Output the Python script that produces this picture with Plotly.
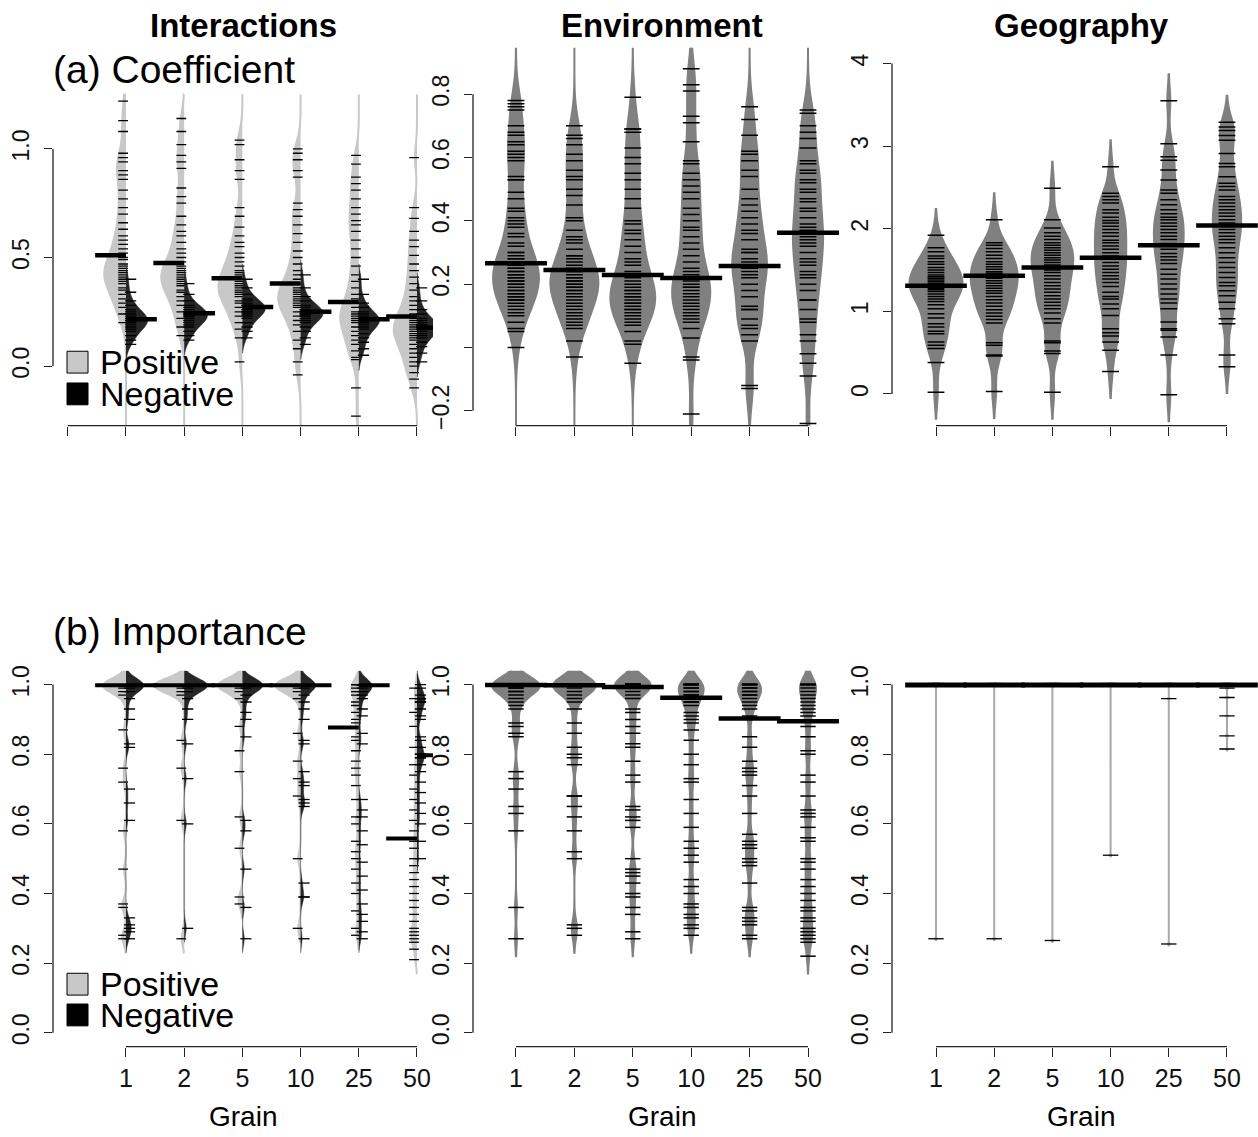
import plotly.graph_objects as go

W, H = 1258, 1137
grains = ['1', '2', '5', '10', '25', '50']

# ---------------- data ----------------
# (a) Coefficient - Interactions, positive / negative halves
coef_int_pos = [
    [1.22, 1.13, 1.08, 0.98, 0.96, 0.94, 0.90, 0.88, 0.86, 0.81, 0.77, 0.73, 0.70, 0.66, 0.63, 0.60, 0.58, 0.56, 0.54, 0.52,
     0.50, 0.49, 0.47, 0.46, 0.45, 0.44, 0.43, 0.42, 0.41, 0.40, 0.39, 0.38, 0.36, 0.35, 0.33, 0.31, 0.29, 0.27, 0.24, 0.20],
    [1.14, 1.08, 1.02, 0.97, 0.94, 0.91, 0.82, 0.78, 0.75, 0.69, 0.65, 0.62, 0.60, 0.57, 0.54, 0.52, 0.50, 0.48, 0.46, 0.45,
     0.44, 0.43, 0.42, 0.41, 0.40, 0.39, 0.38, 0.37, 0.35, 0.34, 0.32, 0.30, 0.28, 0.25, 0.22, 0.18, 0.14],
    [1.04, 1.02, 0.95, 0.90, 0.86, 0.73, 0.69, 0.64, 0.60, 0.57, 0.55, 0.52, 0.50, 0.48, 0.46, 0.44, 0.43, 0.42, 0.40, 0.39,
     0.38, 0.37, 0.36, 0.35, 0.34, 0.33, 0.32, 0.30, 0.29, 0.27, 0.25, 0.23, 0.20, 0.17, 0.13, 0.02],
    [1.00, 0.98, 0.95, 0.90, 0.87, 0.75, 0.72, 0.69, 0.65, 0.61, 0.57, 0.53, 0.50, 0.47, 0.44, 0.42, 0.40, 0.38, 0.36, 0.35,
     0.34, 0.33, 0.32, 0.31, 0.30, 0.29, 0.28, 0.27, 0.25, 0.23, 0.21, 0.19, 0.16, 0.12, 0.08, 0.02, -0.04],
    [0.97, 0.93, 0.87, 0.84, 0.81, 0.77, 0.73, 0.70, 0.67, 0.65, 0.62, 0.58, 0.54, 0.50, 0.46, 0.42, 0.39, 0.36, 0.33, 0.31,
     0.29, 0.27, 0.25, 0.24, 0.23, 0.22, 0.21, 0.20, 0.18, 0.16, 0.14, 0.12, 0.10, 0.07, 0.04, 0.03, -0.10, -0.23],
    [0.96, 0.73, 0.68, 0.62, 0.58, 0.55, 0.51, 0.47, 0.44, 0.41, 0.38, 0.35, 0.32, 0.30, 0.28, 0.26, 0.24, 0.22, 0.21, 0.20,
     0.19, 0.18, 0.17, 0.16, 0.15, 0.14, 0.13, 0.12, 0.10, 0.08, 0.06, 0.04, 0.02, 0.00, -0.03, -0.06, -0.10],
]
coef_int_neg = [
    [0.40, 0.34, 0.30, 0.28, 0.26, 0.25, 0.24, 0.23, 0.22, 0.22, 0.21, 0.21, 0.20, 0.20, 0.19, 0.18, 0.17, 0.16, 0.14, 0.12, 0.10],
    [0.38, 0.33, 0.30, 0.28, 0.27, 0.26, 0.25, 0.25, 0.24, 0.24, 0.23, 0.23, 0.22, 0.22, 0.21, 0.20, 0.19, 0.18, 0.16, 0.14, 0.12],
    [0.40, 0.36, 0.33, 0.31, 0.30, 0.29, 0.28, 0.28, 0.27, 0.27, 0.26, 0.26, 0.25, 0.25, 0.24, 0.23, 0.22, 0.20, 0.18, 0.16, 0.13],
    [0.42, 0.36, 0.32, 0.30, 0.28, 0.27, 0.26, 0.26, 0.25, 0.25, 0.24, 0.24, 0.23, 0.23, 0.22, 0.21, 0.20, 0.18, 0.16, 0.13, 0.10],
    [0.40, 0.33, 0.29, 0.27, 0.25, 0.24, 0.23, 0.22, 0.22, 0.21, 0.21, 0.20, 0.20, 0.19, 0.18, 0.17, 0.15, 0.13, 0.11, 0.08, 0.05],
    [0.36, 0.30, 0.26, 0.24, 0.22, 0.21, 0.20, 0.19, 0.19, 0.18, 0.18, 0.17, 0.17, 0.16, 0.15, 0.14, 0.13, 0.11, 0.09, 0.06, 0.02],
]
# (a) Coefficient - Environment
coef_env = [
    [0.78, 0.77, 0.76, 0.75, 0.70, 0.68, 0.67, 0.65, 0.64, 0.62, 0.61, 0.60, 0.59, 0.54, 0.53, 0.53, 0.49, 0.47, 0.44, 0.43,
     0.41, 0.40, 0.39, 0.38, 0.36, 0.35, 0.33, 0.32, 0.30, 0.30, 0.29, 0.28, 0.28, 0.27, 0.27, 0.26, 0.26, 0.25, 0.25, 0.24,
     0.24, 0.23, 0.23, 0.22, 0.22, 0.21, 0.21, 0.20, 0.20, 0.19, 0.18, 0.18, 0.17, 0.17, 0.16, 0.16, 0.15, 0.15, 0.14, 0.13,
     0.12, 0.11, 0.10, 0.08, 0.06, 0.05, 0.00],
    [0.70, 0.67, 0.66, 0.64, 0.61, 0.59, 0.56, 0.54, 0.53, 0.50, 0.48, 0.45, 0.41, 0.40, 0.37, 0.35, 0.34, 0.33, 0.31, 0.29,
     0.29, 0.28, 0.27, 0.26, 0.25, 0.24, 0.24, 0.23, 0.22, 0.22, 0.21, 0.21, 0.20, 0.20, 0.19, 0.19, 0.18, 0.18, 0.17, 0.16,
     0.15, 0.14, 0.13, 0.12, 0.11, 0.10, 0.09, 0.08, 0.07, 0.06, 0.02, -0.03],
    [0.79, 0.69, 0.69, 0.68, 0.63, 0.60, 0.58, 0.55, 0.53, 0.50, 0.47, 0.44, 0.40, 0.39, 0.37, 0.36, 0.34, 0.32, 0.30, 0.28,
     0.27, 0.26, 0.24, 0.23, 0.22, 0.21, 0.20, 0.19, 0.18, 0.18, 0.17, 0.16, 0.16, 0.15, 0.14, 0.14, 0.13, 0.12, 0.12, 0.11,
     0.10, 0.09, 0.08, 0.07, 0.05, 0.02, 0.01, -0.05],
    [0.88, 0.83, 0.81, 0.73, 0.71, 0.65, 0.59, 0.58, 0.55, 0.53, 0.51, 0.49, 0.47, 0.44, 0.42, 0.40, 0.38, 0.37, 0.35, 0.33,
     0.31, 0.29, 0.27, 0.25, 0.24, 0.23, 0.22, 0.21, 0.20, 0.19, 0.19, 0.18, 0.17, 0.16, 0.15, 0.14, 0.13, 0.12, 0.11, 0.10,
     0.09, 0.08, 0.06, 0.03, -0.03, -0.04, -0.21],
    [0.76, 0.72, 0.67, 0.62, 0.61, 0.59, 0.56, 0.54, 0.50, 0.47, 0.45, 0.43, 0.41, 0.39, 0.37, 0.36, 0.34, 0.31, 0.30, 0.30,
     0.28, 0.27, 0.26, 0.25, 0.24, 0.23, 0.22, 0.20, 0.18, 0.16, 0.13, 0.12, 0.12, 0.09, 0.07, 0.06, 0.04, 0.02, -0.12, -0.13],
    [0.75, 0.74, 0.70, 0.68, 0.66, 0.63, 0.59, 0.58, 0.56, 0.55, 0.53, 0.52, 0.50, 0.49, 0.47, 0.46, 0.44, 0.43, 0.41, 0.39,
     0.38, 0.37, 0.36, 0.35, 0.34, 0.33, 0.32, 0.30, 0.28, 0.27, 0.26, 0.24, 0.23, 0.22, 0.20, 0.18, 0.15, 0.15, 0.12, 0.09,
     0.08, 0.04, 0.02, -0.02, -0.05, -0.09, -0.24],
]
# (a) Coefficient - Geography
coef_geo = [
    [1.92, 1.77, 1.72, 1.67, 1.64, 1.60, 1.57, 1.53, 1.50, 1.47, 1.44, 1.42, 1.40, 1.38, 1.36, 1.34, 1.32, 1.30, 1.28, 1.26,
     1.24, 1.21, 1.18, 1.15, 1.12, 1.08, 1.03, 0.97, 0.92, 0.85, 0.81, 0.76, 0.73, 0.63, 0.59, 0.55, 0.38, 0.02],
    [2.11, 1.83, 1.80, 1.76, 1.72, 1.68, 1.64, 1.60, 1.57, 1.54, 1.51, 1.48, 1.46, 1.43, 1.40, 1.37, 1.34, 1.31, 1.28, 1.25,
     1.22, 1.18, 1.14, 1.10, 1.06, 1.02, 0.98, 0.94, 0.90, 0.86, 0.62, 0.59, 0.47, 0.46, 0.03],
    [2.49, 2.11, 2.01, 1.95, 1.91, 1.87, 1.83, 1.80, 1.77, 1.74, 1.71, 1.68, 1.65, 1.62, 1.59, 1.56, 1.53, 1.50, 1.47, 1.43,
     1.39, 1.35, 1.31, 1.27, 1.23, 1.19, 1.15, 1.11, 1.07, 1.03, 0.98, 0.91, 0.86, 0.64, 0.62, 0.52, 0.49, 0.02],
    [2.75, 2.43, 2.39, 2.35, 2.31, 2.23, 2.19, 2.14, 2.10, 2.07, 2.03, 1.99, 1.95, 1.91, 1.86, 1.83, 1.79, 1.75, 1.71, 1.67,
     1.63, 1.59, 1.55, 1.51, 1.47, 1.43, 1.39, 1.35, 1.30, 1.23, 1.18, 1.15, 1.09, 1.03, 0.95, 0.79, 0.74, 0.70, 0.63, 0.53, 0.27],
    [3.55, 3.03, 2.87, 2.83, 2.71, 2.59, 2.47, 2.43, 2.35, 2.29, 2.23, 2.18, 2.14, 2.11, 2.07, 2.03, 1.99, 1.95, 1.91, 1.87,
     1.82, 1.79, 1.75, 1.70, 1.66, 1.62, 1.58, 1.51, 1.45, 1.39, 1.33, 1.27, 1.21, 1.15, 1.10, 1.03, 0.87, 0.79, 0.77, 0.69,
     0.47, -0.01],
    [3.29, 3.23, 3.19, 3.13, 3.07, 2.91, 2.79, 2.75, 2.63, 2.55, 2.51, 2.47, 2.39, 2.35, 2.31, 2.27, 2.23, 2.19, 2.15, 2.11,
     2.07, 2.03, 1.99, 1.95, 1.91, 1.87, 1.83, 1.77, 1.71, 1.65, 1.59, 1.53, 1.47, 1.41, 1.35, 1.31, 1.25, 1.19, 1.11, 1.03,
     0.91, 0.85, 0.47, 0.33],
]
# (b) Importance - Interactions
imp_int_pos = [
    [1.0, 1.0, 1.0, 1.0, 1.0, 1.0, 1.0, 1.0, 1.0, 1.0, 0.99, 0.98, 0.97, 0.87, 0.76, 0.72, 0.58, 0.47, 0.37, 0.36, 0.28, 0.27],
    [1.0, 1.0, 1.0, 1.0, 1.0, 1.0, 1.0, 1.0, 1.0, 1.0, 0.99, 0.98, 0.97, 0.84, 0.76, 0.61, 0.27],
    [1.0, 1.0, 1.0, 1.0, 1.0, 1.0, 1.0, 1.0, 1.0, 1.0, 0.99, 0.98, 0.96, 0.88, 0.81, 0.75, 0.62, 0.53, 0.39, 0.37],
    [1.0, 1.0, 1.0, 1.0, 1.0, 1.0, 1.0, 1.0, 1.0, 0.99, 0.98, 0.96, 0.86, 0.78, 0.73, 0.68, 0.50, 0.30],
    [1.0, 1.0, 1.0, 0.99, 0.98, 0.97, 0.95, 0.94, 0.92, 0.90, 0.89, 0.85, 0.84, 0.81, 0.78, 0.76, 0.74, 0.71, 0.67, 0.62,
     0.60, 0.55, 0.52, 0.50, 0.47, 0.43, 0.40, 0.35, 0.30, 0.28],
    [0.99, 0.96, 0.92, 0.88, 0.82, 0.77, 0.74, 0.70, 0.67, 0.64, 0.61, 0.58, 0.55, 0.53, 0.50, 0.48, 0.46, 0.44, 0.42, 0.40,
     0.38, 0.36, 0.34, 0.32, 0.30, 0.29, 0.28, 0.27, 0.26, 0.24, 0.21],
]
imp_int_neg = [
    [1.0, 1.0, 1.0, 1.0, 1.0, 1.0, 1.0, 1.0, 1.0, 1.0, 0.99, 0.98, 0.96, 0.93, 0.90, 0.83, 0.82, 0.70, 0.66, 0.61,
     0.33, 0.31, 0.30, 0.29, 0.27],
    [1.0, 1.0, 1.0, 1.0, 1.0, 1.0, 1.0, 1.0, 1.0, 1.0, 0.99, 0.98, 0.96, 0.93, 0.90, 0.83, 0.73, 0.60, 0.30],
    [1.0, 1.0, 1.0, 1.0, 1.0, 1.0, 1.0, 1.0, 1.0, 1.0, 0.99, 0.97, 0.95, 0.92, 0.90, 0.85, 0.61, 0.58, 0.47, 0.36, 0.27],
    [1.0, 1.0, 1.0, 1.0, 1.0, 1.0, 1.0, 1.0, 1.0, 0.99, 0.97, 0.95, 0.93, 0.90, 0.84, 0.83, 0.75, 0.72, 0.71, 0.67,
     0.66, 0.65, 0.43, 0.39, 0.39, 0.27],
    [1.0, 1.0, 1.0, 1.0, 1.0, 1.0, 1.0, 1.0, 0.99, 0.98, 0.97, 0.96, 0.93, 0.91, 0.86, 0.83, 0.67, 0.64, 0.62, 0.58,
     0.54, 0.49, 0.45, 0.41, 0.37, 0.34, 0.32, 0.29, 0.27],
    [1.0, 0.99, 0.97, 0.96, 0.96, 0.95, 0.95, 0.93, 0.91, 0.90, 0.85, 0.84, 0.82, 0.80, 0.80, 0.79, 0.79, 0.77, 0.75, 0.72,
     0.69, 0.66, 0.63, 0.60, 0.55, 0.50],
]
# (b) Importance - Environment
imp_env = [
    [1.0, 1.0, 1.0, 1.0, 1.0, 1.0, 1.0, 1.0, 1.0, 1.0, 1.0, 1.0, 1.0, 1.0, 1.0, 1.0, 1.0, 1.0, 1.0, 1.0,
     0.99, 0.99, 0.98, 0.98, 0.97, 0.96, 0.95, 0.94, 0.93, 0.89, 0.88, 0.86, 0.85, 0.75, 0.73, 0.70, 0.65, 0.63, 0.58,
     0.36, 0.27],
    [1.0, 1.0, 1.0, 1.0, 1.0, 1.0, 1.0, 1.0, 1.0, 1.0, 1.0, 1.0, 1.0, 1.0, 1.0, 1.0, 1.0, 1.0, 1.0, 1.0,
     0.99, 0.98, 0.97, 0.96, 0.95, 0.93, 0.89, 0.86, 0.82, 0.80, 0.79, 0.77, 0.68, 0.68, 0.65, 0.62, 0.58, 0.52, 0.50,
     0.31, 0.30, 0.28],
    [1.0, 1.0, 1.0, 1.0, 1.0, 1.0, 1.0, 1.0, 1.0, 1.0, 1.0, 1.0, 1.0, 1.0, 1.0, 1.0, 1.0, 1.0, 1.0, 1.0,
     0.99, 0.98, 0.97, 0.96, 0.93, 0.92, 0.90, 0.88, 0.86, 0.83, 0.82, 0.78, 0.74, 0.72, 0.65, 0.64, 0.62, 0.61, 0.59,
     0.50, 0.47, 0.46, 0.45, 0.43, 0.40, 0.39, 0.36, 0.34, 0.29, 0.27],
    [1.0, 1.0, 1.0, 1.0, 1.0, 1.0, 1.0, 1.0, 0.99, 0.99, 0.98, 0.98, 0.97, 0.97, 0.96, 0.96, 0.95, 0.95, 0.94,
     0.92, 0.91, 0.90, 0.89, 0.87, 0.84, 0.80, 0.77, 0.73, 0.72, 0.67, 0.63, 0.59, 0.55, 0.53, 0.51, 0.49, 0.44,
     0.42, 0.40, 0.37, 0.36, 0.34, 0.33, 0.31, 0.30, 0.28],
    [1.0, 1.0, 1.0, 1.0, 1.0, 1.0, 0.99, 0.99, 0.98, 0.98, 0.97, 0.97, 0.96, 0.95, 0.94, 0.93,
     0.91, 0.85, 0.82, 0.78, 0.76, 0.75, 0.74, 0.71, 0.68, 0.63, 0.57, 0.55, 0.54, 0.53, 0.50, 0.49, 0.48, 0.43,
     0.36, 0.35, 0.33, 0.32, 0.31, 0.28, 0.27],
    [1.0, 1.0, 1.0, 1.0, 1.0, 1.0, 0.99, 0.98, 0.97, 0.96, 0.95, 0.94, 0.93, 0.92, 0.91,
     0.88, 0.85, 0.81, 0.80, 0.74, 0.72, 0.68, 0.64, 0.63, 0.62, 0.59, 0.56, 0.55, 0.50, 0.49, 0.47, 0.44, 0.42,
     0.40, 0.38, 0.36, 0.35, 0.33, 0.32, 0.30, 0.29, 0.28, 0.27, 0.26, 0.22],
]
# (b) Importance - Geography
imp_geo = [
    [1.0, 1.0, 1.0, 1.0, 1.0, 1.0, 1.0, 1.0, 1.0, 1.0, 1.0, 1.0, 1.0, 1.0, 1.0, 0.27],
    [1.0, 1.0, 1.0, 1.0, 1.0, 1.0, 1.0, 1.0, 1.0, 1.0, 1.0, 1.0, 1.0, 1.0, 1.0, 0.27],
    [1.0, 1.0, 1.0, 1.0, 1.0, 1.0, 1.0, 1.0, 1.0, 1.0, 1.0, 1.0, 1.0, 1.0, 1.0, 0.265],
    [1.0, 1.0, 1.0, 1.0, 1.0, 1.0, 1.0, 1.0, 1.0, 1.0, 1.0, 1.0, 1.0, 1.0, 1.0, 0.51],
    [1.0, 1.0, 1.0, 1.0, 1.0, 1.0, 1.0, 1.0, 1.0, 1.0, 1.0, 1.0, 1.0, 1.0, 1.0, 0.96, 0.255],
    [1.0, 1.0, 1.0, 1.0, 1.0, 1.0, 1.0, 1.0, 1.0, 1.0, 1.0, 1.0, 0.99, 0.963, 0.91, 0.853, 0.815],
]

# bean average lines
mean_coef_int_pos = [0.51, 0.475, 0.405, 0.38, 0.295, 0.228]
mean_coef_int_neg = [0.216, 0.243, 0.272, 0.25, 0.216, 0.177]
mean_coef_env = [0.266, 0.245, 0.229, 0.219, 0.257, 0.362]
mean_coef_geo = [1.31, 1.43, 1.53, 1.65, 1.80, 2.04]
mean_imp_int_pos = [0.998, 0.998, 0.998, 0.998, 0.877, 0.558]
mean_imp_int_neg = [0.998, 0.998, 0.998, 0.998, 0.998, 0.797]
mean_imp_env = [0.999, 0.998, 0.993, 0.962, 0.903, 0.895]
mean_imp_geo = [0.999, 0.999, 0.999, 0.999, 0.999, 0.999]

# axis ticks
yt_coef_int = [0.0, 0.5, 1.0]
yt_coef_int_lab = ['0.0', '0.5', '1.0']
yt_coef_env = [-0.2, 0.0, 0.2, 0.4, 0.6, 0.8]
yt_coef_env_lab = ['\u22120.2', '', '0.2', '0.4', '0.6', '0.8']
yt_coef_geo = [0, 1, 2, 3, 4]
yt_coef_geo_lab = ['0', '1', '2', '3', '4']
yt_imp = [0.0, 0.2, 0.4, 0.6, 0.8, 1.0]
yt_imp_lab = ['0.0', '0.2', '0.4', '0.6', '0.8', '1.0']

# ---------------- layout geometry (pixels) ----------------
FONT = 'Liberation Sans, Arial, sans-serif'
col_px = [(53, 433, (-0.254, 6.275)), (473, 850, (0.264, 6.719)), (892, 1258, (0.244, 6.533))]
row_px = [(43, 424), (671, 1050)]
yranges = [(-0.274, 1.466), (-0.247, 0.947), (-0.384, 4.192),
           (-0.04, 1.04), (-0.04, 1.04), (-0.04, 1.04)]
yticks = [(yt_coef_int, yt_coef_int_lab), (yt_coef_env, yt_coef_env_lab), (yt_coef_geo, yt_coef_geo_lab),
          (yt_imp, yt_imp_lab), (yt_imp, yt_imp_lab), (yt_imp, yt_imp_lab)]

fig = go.Figure()
layout = dict(width=W, height=H, margin=dict(l=0, r=0, t=0, b=0),
              paper_bgcolor='white', plot_bgcolor='white', showlegend=False,
              violinmode='overlay', font=dict(family=FONT, color='#111'))
shapes = []
annotations = []
AX = '#222'

positions = list(range(1, len(grains) + 1))

for k in range(6):
    r, c = divmod(k, 3)
    sid = '' if k == 0 else str(k + 1)
    x0, x1, xr = col_px[c]
    y0, y1 = row_px[r]
    if r == 0:
        xtv = ([0] + positions) if c == 0 else positions
        xtt = [''] * len(xtv)
    else:
        xtv = positions
        xtt = grains
    layout['xaxis' + sid] = dict(domain=[x0 / W, x1 / W], range=list(xr), anchor='y' + sid,
                                 showgrid=False, zeroline=False, showline=False,
                                 ticks='outside', ticklen=9, tickwidth=1.3, tickcolor=AX,
                                 tickvals=xtv, ticktext=xtt, tickfont=dict(size=25, color='#111', family=FONT),
                                 fixedrange=True)
    tv, tt = yticks[k]
    layout['yaxis' + sid] = dict(domain=[1 - y1 / H, 1 - y0 / H], range=list(yranges[k]), anchor='x' + sid,
                                 showgrid=False, zeroline=False, showline=False,
                                 ticks='outside', ticklen=8, tickwidth=1.3, tickcolor=AX,
                                 tickvals=tv, ticktext=tt, tickangle=-90, ticklabelstandoff=6,
                                 tickfont=dict(size=23, color='#111', family=FONT), fixedrange=True)
    # R-style axis lines spanning first..last tick
    shapes.append(dict(type='line', xref='x' + sid, yref='y' + sid + ' domain',
                       x0=xtv[0], x1=xtv[-1], y0=0, y1=0, line=dict(color=AX, width=1.3)))
    shapes.append(dict(type='line', xref='x' + sid + ' domain', yref='y' + sid,
                       x0=0, x1=0, y0=tv[0], y1=tv[-1], line=dict(color=AX, width=1.3)))


def beans(groups, sid, side, width, bw, fill, lc, lw, span=None, msize=12, ppos=0.0, mlw=1.3):
    xs, ys = [], []
    for i, vals in enumerate(groups):
        xs += [positions[i]] * len(vals)
        ys += vals
    kw = dict(spanmode='manual', span=span) if span else dict(spanmode='soft')
    return go.Violin(x=xs, y=ys, xaxis='x' + sid, yaxis='y' + sid, side=side, width=width,
                     bandwidth=bw, fillcolor=fill, line=dict(color=lc, width=lw),
                     points='all', jitter=0, pointpos=ppos,
                     marker=dict(symbol='line-ew-open', size=msize, color='black',
                                 line=dict(color='black', width=mlw)),
                     box=dict(visible=False), meanline=dict(visible=False),
                     hoverinfo='skip', showlegend=False, **kw)


def mean_line(means, sid, lo, hi, width=4.5):
    xs, ys = [], []
    for i, m in enumerate(means):
        xs += [positions[i] + lo, positions[i] + hi, None]
        ys += [m, m, None]
    return go.Scatter(x=xs, y=ys, mode='lines', line=dict(color='black', width=width),
                      xaxis='x' + sid, yaxis='y' + sid, hoverinfo='skip', showlegend=False)


LIGHT = '#c8c8c8'
DARK = '#262626'
MID = '#808080'
L = 0.53

# (a) Coefficient
fig.add_trace(beans(coef_int_pos, '', 'negative', 0.82, 0.06, LIGHT, LIGHT, 2.0,
                    span=[-0.3, 1.25], msize=7, ppos=-0.12))
fig.add_trace(beans(coef_int_neg, '', 'positive', 0.80, 0.035, DARK, DARK, 0.5, msize=8, ppos=0.2))
fig.add_trace(mean_line(mean_coef_int_pos, '', -L, 0))
fig.add_trace(mean_line(mean_coef_int_neg, '', 0, L))

fig.add_trace(beans(coef_env, '2', 'both', 0.82, 0.06, MID, MID, 2.0, span=[-0.25, 0.95], msize=12, mlw=1.5))
fig.add_trace(mean_line(mean_coef_env, '2', -L, L))

fig.add_trace(beans(coef_geo, '3', 'both', 0.91, 0.16, MID, MID, 2.0, msize=12, mlw=1.5))
fig.add_trace(mean_line(mean_coef_geo, '3', -L, L))

# (b) Importance
fig.add_trace(beans(imp_int_pos, '4', 'negative', 1.0, 0.02, LIGHT, LIGHT, 2.0, msize=7, ppos=-0.1))
fig.add_trace(beans(imp_int_neg, '4', 'positive', 0.8, 0.02, DARK, DARK, 0.5, msize=8, ppos=0.15))
fig.add_trace(mean_line(mean_imp_int_pos, '4', -L, 0, width=4))
fig.add_trace(mean_line(mean_imp_int_neg, '4', 0, L, width=4))

fig.add_trace(beans(imp_env, '5', 'both', 0.80, 0.025, MID, MID, 2.0, msize=11, mlw=1.5))
fig.add_trace(mean_line(mean_imp_env, '5', -L, L))

fig.add_trace(beans(imp_geo, '6', 'both', 0.5, 0.002, '#a8a8a8', '#a8a8a8', 2.0, msize=11))
fig.add_trace(mean_line(mean_imp_geo, '6', -L, L, width=5))


def txt(text, x, y, size, xanchor='center', bold=False):
    annotations.append(dict(text=('<b>%s</b>' % text) if bold else text, x=x / W, y=1 - y / H,
                            xref='paper', yref='paper', xanchor=xanchor, yanchor='middle',
                            showarrow=False, font=dict(size=size, family=FONT, color='#000')))


for name, cx in zip(['Interactions', 'Environment', 'Geography'], [243, 662, 1081]):
    txt(name, cx, 21, 33, bold=True)
    txt('Grain', cx, 1120, 28)
txt('(a) Coefficient', 51, 65, 39, xanchor='left')
txt('(b) Importance', 51, 632, 39, xanchor='left')

for (ly_pos, ly_neg) in [(360, 392), (987, 1018)]:
    shapes.append(dict(type='rect', xref='paper', yref='paper', x0=67 / W, x1=88 / W,
                       y0=1 - (ly_pos + 11) / H, y1=1 - (ly_pos - 11) / H,
                       fillcolor=LIGHT, line=dict(color='#000', width=1)))
    shapes.append(dict(type='rect', xref='paper', yref='paper', x0=67 / W, x1=88 / W,
                       y0=1 - (ly_neg + 11) / H, y1=1 - (ly_neg - 11) / H,
                       fillcolor='#000', line=dict(color='#000', width=1)))
    txt('Positive', 98, ly_pos, 34, xanchor='left')
    txt('Negative', 98, ly_neg, 34, xanchor='left')

layout['shapes'] = shapes
layout['annotations'] = annotations
fig.update_layout(**layout)

fig.write_html("out.html", config={'displayModeBar': False},
               post_script="document.body.style.margin='0';document.body.style.overflow='hidden';")
